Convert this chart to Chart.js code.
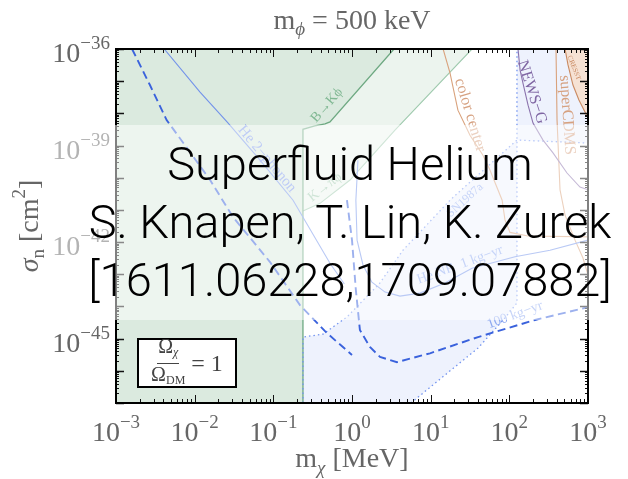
<!DOCTYPE html>
<html>
<head>
<meta charset="utf-8">
<script src="https://cdn.jsdelivr.net/npm/chart.js@4.4.1/dist/chart.umd.min.js"></script>
<style>
  html, body { margin: 0; padding: 0; background: #fff; }
  #wrap { position: relative; width: 628px; height: 479px; overflow: hidden; }
  #c { position: absolute; left: 0; top: 0; }
  #haze { position: absolute; left: 46px; top: 125px; width: 582px; height: 195px; background: rgba(255,255,255,0.5); }
  #credit { position: absolute; left: 350px; top: 135px; transform: translateX(-50%); white-space: nowrap;
            text-align: center; font-family: Roboto, sans-serif; font-weight: 300; font-size: 47px;
            line-height: 58px; color: #000; }
  #omega { position: absolute; left: 137px; top: 338px; width: 100px; height: 50px; box-sizing: border-box;
           border: 2px solid #000; background: #fff; font-family: "Liberation Serif", serif; color: #444;
           display: flex; align-items: center; justify-content: center; font-size: 24px; }
  #omega .frac { display: inline-flex; flex-direction: column; align-items: center; margin-right: 6px; font-size: 20px; }
  #omega .num { border-bottom: 1px solid #444; padding: 0 1px 1px 1px; line-height: 19px; }
  #omega .den { line-height: 20px; }
  #omega sub { font-size: 12px; vertical-align: -3px; }
</style>
</head>
<body>
<div id="wrap">
  <canvas id="c" width="628" height="479"></canvas>
  <div id="haze"></div>
  <div id="credit">Superfluid Helium<br>S. Knapen, T. Lin, K. Zurek<br>[1611.06228,1709.07882]</div>
  <div id="omega"><span class="frac"><span class="num">Ω<sub><i>χ</i></sub></span><span class="den">Ω<sub>DM</sub></span></span>= 1</div>
</div>
<script>
// ---- axis ticks ----
const xTickValues = [1e-3, 1e-2, 1e-1, 1, 10, 100, 1000];
const xTickExponents = ['−3', '−2', '−1', '0', '1', '2', '3'];
const yDecadeValues = [1e-47, 1e-46, 1e-45, 1e-44, 1e-43, 1e-42, 1e-41, 1e-40, 1e-39, 1e-38, 1e-37, 1e-36];
const yLabelValues = [1e-36, 1e-39, 1e-42, 1e-45];
const yLabelExponents = ['−36', '−39', '−42', '−45'];
const minorMultipliers = [2, 3, 4, 5, 6, 7, 8, 9];

// ---- B -> K phi exclusion boundary (mass in MeV, sigma_n in cm^2) ----
const bkMass  = [0.238, 0.238, 0.337, 0.454, 0.525, 3.42];
const bkSigma = [1e-47, 3.2e-39, 4.1e-39, 4.7e-39, 5.4e-39, 1e-36];

// ---- K -> pi phi exclusion boundary ----
const kpiMass  = [0.238, 0.392, 0.944, 3.52, 33.5];
const kpiSigma = [9.3e-42, 1.6e-41, 8.5e-41, 3.0e-39, 1e-36];

// ---- SN1987a band: upper and lower edges ----
const snUpperMass  = [0.238, 0.238, 0.428, 0.863, 2.27, 4.45, 17.6, 125, 1000];
const snUpperSigma = [1e-47, 1.12e-45, 1.38e-45, 4.7e-45, 5.4e-44, 5.6e-43, 2.0e-41, 1.48e-39, 1.2e-39];
const snLowerMass  = [5.62, 15.2, 40, 88, 125, 125];
const snLowerSigma = [1e-47, 7.4e-47, 5.1e-46, 4.4e-45, 1.29e-44, 1e-36];

// ---- helium reach ----
const twoPhononMass  = [0.0041, 0.0117, 0.0258, 0.0678, 0.178, 0.525, 0.80];
const twoPhononSigma = [1e-36, 4.6e-38, 5.4e-39, 3.5e-40, 2.0e-41, 2.2e-43, 5.0e-44];
const relicMass  = [0.0016, 0.0027, 0.0044, 0.0087, 0.0157, 0.0307, 0.0908, 0.218, 0.481, 1.0];
const relicSigma = [1e-36, 7.6e-38, 6.2e-39, 6.3e-40, 8.5e-41, 6.0e-42, 2.4e-43, 1.1e-44, 1.48e-45, 3.1e-46];
const nr1Mass  = [1.19, 1.12, 1.16, 1.38, 1.79, 2.63, 4.07, 7.3, 15.2, 33.5, 118, 329, 1000];
const nr1Sigma = [3.5e-40, 2.0e-41, 1.15e-42, 1.95e-43, 5.7e-44, 2.8e-44, 2.1e-44, 2.6e-44, 5.4e-44, 1.55e-43, 3.5e-43, 5.6e-43, 1.15e-42];
const nr100Mass  = [0.863, 1.0, 1.12, 1.26, 1.69, 2.27, 3.73, 9.8, 40, 212, 1000];
const nr100Sigma = [2.0e-41, 1.15e-42, 3.2e-44, 1.86e-45, 5.5e-46, 2.7e-46, 1.86e-46, 3.5e-46, 1.12e-45, 3.8e-45, 9.5e-45];

// ---- direct detection limits ----
const colorMass  = [14.4, 17.6, 22.2, 31.6, 46, 56.7, 81, 88, 102, 173, 1000];
const colorSigma = [1e-36, 1.8e-37, 1.26e-38, 2.1e-39, 5.1e-40, 1.74e-40, 2.0e-41, 4.9e-42, 2.0e-42, 1.55e-42, 1.45e-42];
const newsgMass  = [129, 137, 149, 173, 200, 268, 359, 541, 791, 1000];
const newsgSigma = [1e-36, 2.2e-37, 8.7e-38, 1.8e-38, 5.0e-39, 1.48e-39, 5.9e-40, 1.4e-40, 5.1e-41, 4.2e-41];
const cdmsMass  = [392, 404, 441, 511, 684, 863, 1000];
const cdmsSigma = [1e-36, 6.2e-39, 4.2e-41, 6.9e-42, 1.15e-42, 3.2e-43, 9.5e-44];
const cresstMass  = [511, 557, 644, 767, 916, 1000];
const cresstSigma = [1e-36, 3.2e-37, 7.6e-38, 2.6e-38, 1.1e-38, 7.2e-39];

const X_MIN = 1e-3, X_MAX = 1e3, Y_MIN = 1e-47, Y_MAX = 1e-36;

const pts = (ms, ss) => ms.map((m, i) => ({ x: m, y: ss[i] }));

// closed outlines for the shaded regions
const bkRegion = pts(bkMass, bkSigma).concat([{ x: X_MIN, y: Y_MAX }, { x: X_MIN, y: Y_MIN }]);
const kpiRegion = pts(kpiMass, kpiSigma).concat([{ x: kpiMass[0], y: Y_MAX }]);
const snUpper = pts(snUpperMass, snUpperSigma);
const snLower = pts(snLowerMass, snLowerSigma);
const snRegionLow = snUpper.slice(0, 8).concat(snLower.slice(0, 5).reverse());
const snRegionHigh = [snLower[5], snUpper[7], snUpper[8], { x: X_MAX, y: Y_MAX }];
const cresstRegion = pts(cresstMass, cresstSigma).concat([{ x: X_MAX, y: Y_MAX }]);

const area = (data, color) => ({ data, fill: 'shape', backgroundColor: color, borderWidth: 0, pointRadius: 0 });
const curve = (data, color, width, dash) => ({ data, fill: false, borderColor: color, borderWidth: width,
  borderDash: dash || [], pointRadius: 0, tension: 0 });

const BLUE_DASH = '#3a62dc', BLUE_THIN = '#7393ea', BLUE_DOT = '#7394f0';
const GREEN = '#6ea982', GREEN_LIGHT = '#9fcaae', ORANGE = '#d9a27c', PURPLE = '#8b73ad';

// Chart.js paints the last dataset first, so the curves come first here
// and the shaded regions last (bottom-most region at the very end).
const datasets = [
  curve(pts(nr100Mass, nr100Sigma), BLUE_DASH, 1.9, [8, 4.5]),
  curve(pts(relicMass, relicSigma), BLUE_DASH, 1.9, [8, 4.5]),
  curve(pts(nr1Mass, nr1Sigma), BLUE_THIN, 1.1),
  curve(pts(twoPhononMass, twoPhononSigma), BLUE_THIN, 1.1),
  curve(pts(newsgMass, newsgSigma), PURPLE, 1.1),
  curve(pts(cresstMass, cresstSigma), '#c98a62', 1.1),
  curve(pts(cdmsMass, cdmsSigma), ORANGE, 1.1),
  curve(pts(colorMass, colorSigma), ORANGE, 1.1),
  curve(snLower, BLUE_DOT, 1.3, [1.5, 3]),
  curve(snUpper, BLUE_DOT, 1.3, [1.5, 3]),
  curve(pts(bkMass, bkSigma), GREEN, 1.3),
  curve(pts(kpiMass, kpiSigma), GREEN_LIGHT, 1.1),
  area(cresstRegion, '#f6e2d4'),
  area(snRegionHigh, '#eef2fd'),
  area(snRegionLow, '#eef2fd'),
  area(bkRegion, '#dbeadf'),
  area(kpiRegion, '#ecf4ee'),
];

// labels written along the curves
const curveLabels = [
  { text: 'He 2−phonon', m: 0.083, s: 3.8e-40, angle: 50, color: '#7d98ec', size: 15 },
  { text: 'B→Kϕ', m: 0.48, s: 1.8e-38, angle: -49, color: '#80b893', size: 14 },
  { text: 'K→πϕ', m: 0.454, s: 5.1e-41, angle: -38, color: '#9fcaae', size: 14 },
  { text: 'SN1987a', m: 27.3, s: 2.0e-41, angle: -42, color: '#8ea9f0', size: 12 },
  { text: 'He NR  1 kg−yr', m: 23.6, s: 1.95e-43, angle: -20, color: '#8ea9f0', size: 14 },
  { text: '100 kg−yr', m: 118, s: 5.4e-45, angle: -20, color: '#8ea9f0', size: 14 },
  { text: 'color center', m: 31.6, s: 8.9e-39, angle: 73, color: '#d6a180', size: 16 },
  { text: 'NEWS−G', m: 194, s: 4.6e-38, angle: 72, color: '#7f66a3', size: 16 },
  { text: 'superCDMS', m: 541, s: 8.9e-39, angle: 86, color: '#d6a180', size: 16 },
  { text: 'CRESST', m: 664, s: 2.6e-37, angle: 68, color: '#c98a62', size: 7 },
];

const SERIF = '"Liberation Serif", "Times New Roman", serif';
const fontOf = r => `${r.it ? 'italic ' : ''}${r.size}px ${SERIF}`;
function runsWidth(ctx, runs) {
  let w = 0;
  for (const r of runs) { ctx.font = fontOf(r); w += ctx.measureText(r.t).width; }
  return w;
}
function drawRuns(ctx, runs, x, y, align) {
  const w = runsWidth(ctx, runs);
  let cx = align === 'center' ? x - w / 2 : align === 'right' ? x - w : x;
  ctx.textAlign = 'left';
  ctx.textBaseline = 'alphabetic';
  for (const r of runs) {
    ctx.font = fontOf(r);
    ctx.fillText(r.t, cx, y + (r.dy || 0));
    cx += ctx.measureText(r.t).width;
  }
}

const decorations = {
  id: 'decorations',
  afterDatasetsDraw(chart) {
    const { ctx, chartArea: a, scales: { x, y } } = chart;
    ctx.save();

    // curve labels
    for (const l of curveLabels) {
      const px = x.getPixelForValue(l.m), py = y.getPixelForValue(l.s);
      ctx.save();
      ctx.translate(px, py);
      ctx.rotate(l.angle * Math.PI / 180);
      ctx.fillStyle = l.color;
      ctx.font = `${l.size}px ${SERIF}`;
      ctx.textAlign = 'center';
      ctx.textBaseline = 'middle';
      ctx.fillText(l.text, 0, 0);
      ctx.restore();
    }

    // inward ticks on all four sides
    ctx.strokeStyle = '#111';
    ctx.lineWidth = 1;
    const tickX = (v, len) => {
      const p = Math.round(x.getPixelForValue(v)) + 0.5;
      ctx.beginPath();
      ctx.moveTo(p, a.bottom); ctx.lineTo(p, a.bottom - len);
      ctx.moveTo(p, a.top); ctx.lineTo(p, a.top + len);
      ctx.stroke();
    };
    const tickY = (v, len) => {
      const p = Math.round(y.getPixelForValue(v)) + 0.5;
      ctx.beginPath();
      ctx.moveTo(a.left, p); ctx.lineTo(a.left + len, p);
      ctx.moveTo(a.right, p); ctx.lineTo(a.right - len, p);
      ctx.stroke();
    };
    xTickValues.forEach((v, i) => {
      tickX(v, 8);
      if (i < xTickValues.length - 1) minorMultipliers.forEach(k => tickX(v * k, 4));
    });
    ctx.lineWidth = 1.6;
    yDecadeValues.forEach(v => tickY(v, 8));
    ctx.lineWidth = 1;
    yDecadeValues.forEach((v, i) => {
      if (i < yDecadeValues.length - 1) minorMultipliers.forEach(k => tickY(v * k, 3));
    });

    // frame
    ctx.lineWidth = 2;
    ctx.strokeStyle = '#000';
    ctx.strokeRect(a.left, a.top, a.right - a.left, a.bottom - a.top);

    // tick labels
    ctx.fillStyle = '#666';
    xTickValues.forEach((v, i) => {
      drawRuns(ctx, [{ t: '10', size: 28 }, { t: xTickExponents[i], size: 19, dy: -13 }],
        x.getPixelForValue(v), a.bottom + 38, 'center');
    });
    yLabelValues.forEach((v, i) => {
      drawRuns(ctx, [{ t: '10', size: 28 }, { t: yLabelExponents[i], size: 19, dy: -13 }],
        a.left - 6, y.getPixelForValue(v) + 13, 'right');
    });

    // chart title and axis titles
    const cx = (a.left + a.right) / 2;
    drawRuns(ctx, [{ t: 'm', size: 28 }, { t: 'ϕ', size: 19, it: true, dy: 6 }, { t: ' = 500 keV', size: 28 }],
      cx, 29, 'center');
    drawRuns(ctx, [{ t: 'm', size: 28 }, { t: 'χ', size: 19, it: true, dy: 7 }, { t: ' [MeV]', size: 28 }],
      cx, 467, 'center');
    ctx.save();
    ctx.translate(38, (a.top + a.bottom) / 2);
    ctx.rotate(-Math.PI / 2);
    drawRuns(ctx, [{ t: 'σ', size: 28, it: true }, { t: 'n', size: 19, dy: 6 }, { t: ' [cm', size: 28 },
      { t: '2', size: 19, dy: -13 }, { t: ']', size: 28 }], 0, 0, 'center');
    ctx.restore();

    ctx.restore();
  }
};

new Chart(document.getElementById('c'), {
  type: 'line',
  data: { datasets },
  options: {
    responsive: false,
    devicePixelRatio: 1,
    animation: false,
    layout: { padding: { left: 116, right: 40, top: 49, bottom: 76 } },
    plugins: { legend: { display: false }, tooltip: { enabled: false }, title: { display: false } },
    scales: {
      x: { type: 'logarithmic', min: X_MIN, max: X_MAX, display: false },
      y: { type: 'logarithmic', min: Y_MIN, max: Y_MAX, display: false }
    }
  },
  plugins: [decorations]
});
</script>
</body>
</html>
